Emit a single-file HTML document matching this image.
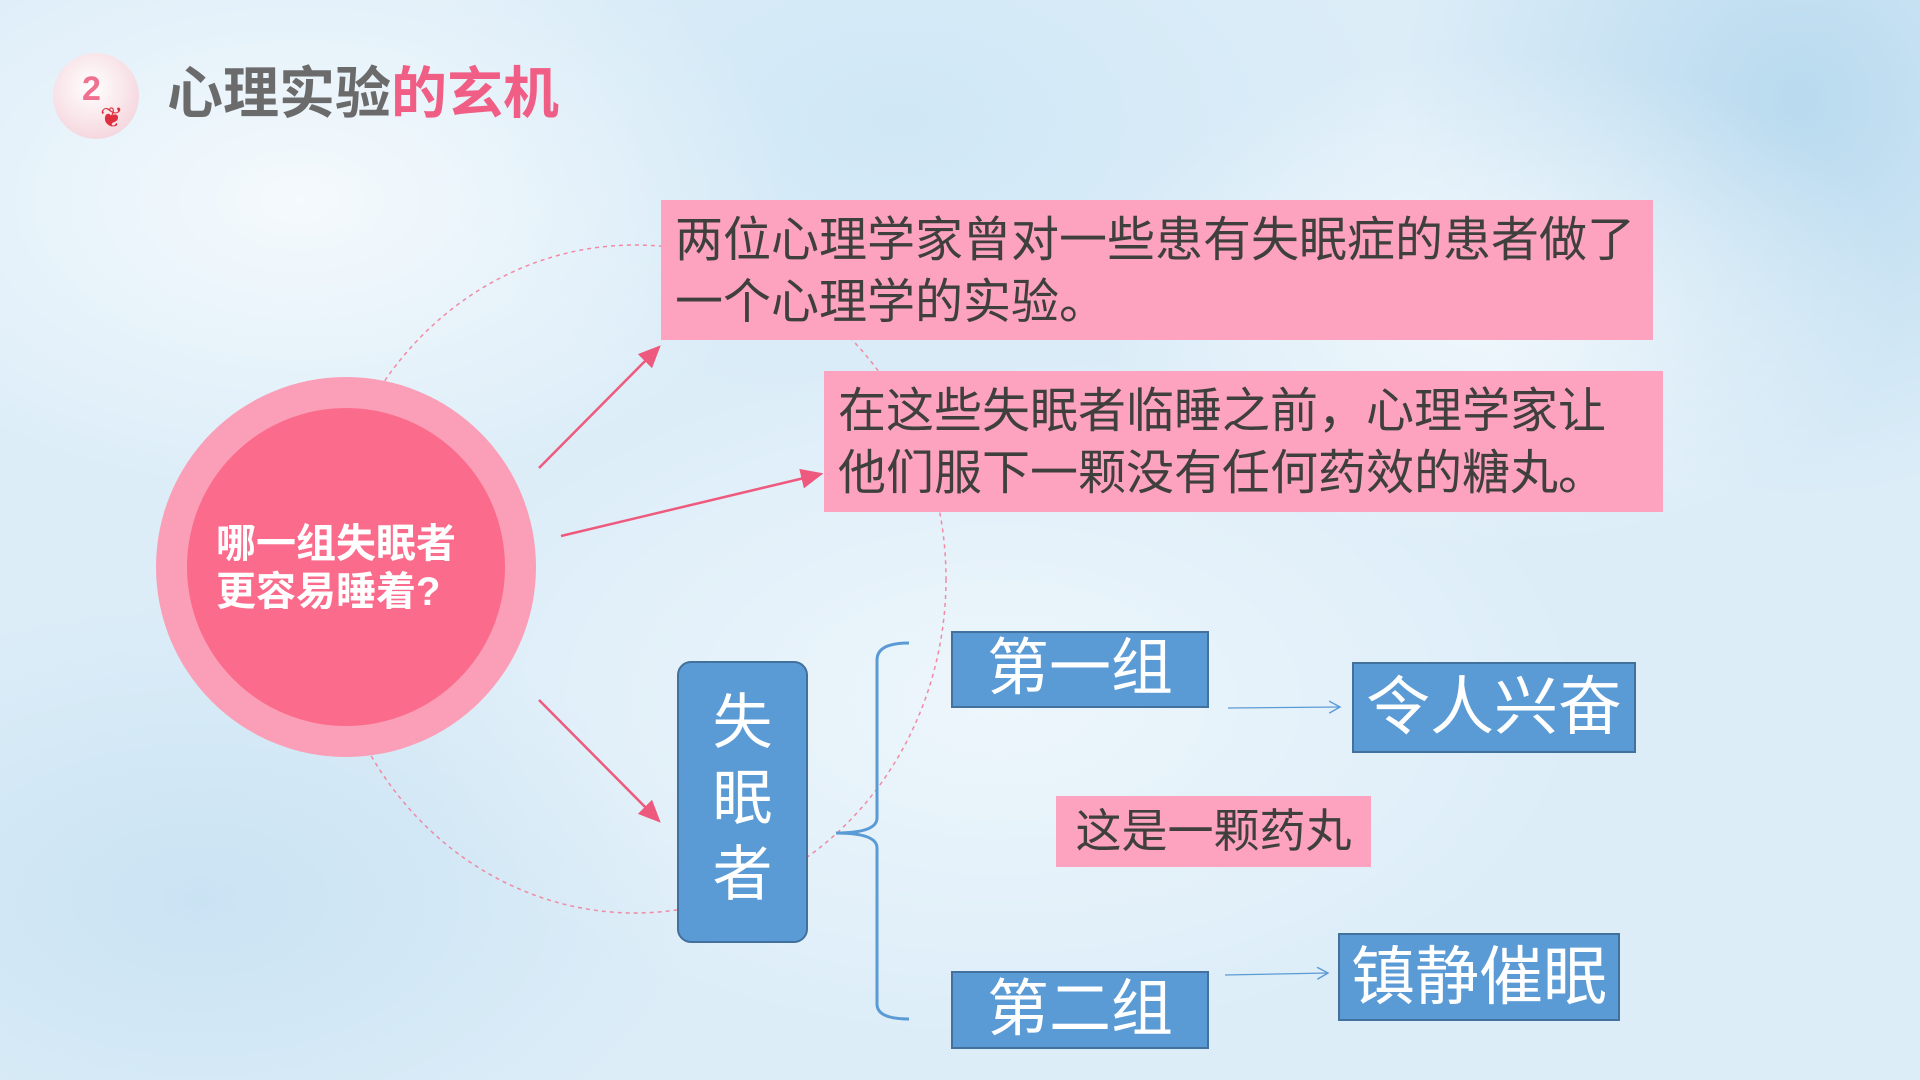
<!DOCTYPE html>
<html><head><meta charset="utf-8"><style>
html,body{margin:0;padding:0;}
body{width:1920px;height:1080px;overflow:hidden;position:relative;font-family:"Liberation Sans","Noto Sans CJK SC",sans-serif;
background:
radial-gradient(ellipse 500px 300px at 300px 200px,rgba(255,255,255,0.7),transparent),
radial-gradient(ellipse 600px 350px at 1000px 700px,rgba(255,255,255,0.5),transparent),
radial-gradient(ellipse 400px 250px at 1500px 300px,rgba(255,255,255,0.6),transparent),
radial-gradient(ellipse 500px 300px at 200px 900px,rgba(190,220,240,0.6),transparent),
radial-gradient(ellipse 400px 400px at 1800px 100px,rgba(170,210,235,0.7),transparent),
radial-gradient(ellipse 500px 300px at 900px 120px,rgba(200,228,245,0.6),transparent),
#dcedf8;}
.a{position:absolute;box-sizing:border-box;}
.pink{background:#fda3bf;color:#3f3f3f;font-size:48px;line-height:62px;padding:10px 14px;white-space:nowrap;}
.blue{background:#5b9bd5;border:2px solid #41719c;color:#fff;text-align:center;}
</style></head><body>
<div class="a" style="left:53px;top:53px;width:86px;height:86px;border-radius:50%;background:radial-gradient(circle at 45% 40%,#fff 0%,#f7dfe5 60%,#f2c9d3 100%);"></div>
<div class="a" style="left:82px;top:70px;font-size:34px;font-weight:bold;color:#f0708f;">2</div>
<div class="a" style="left:100px;top:100px;width:36px;height:36px;color:#e0303f;font-size:28px;line-height:36px;">❦</div>
<div class="a" style="left:167px;top:62px;font-size:56px;font-weight:bold;line-height:64px;color:#6b6b6b;white-space:nowrap;">心理实验<span style="color:#f05d85;">的玄机</span></div>

<svg class="a" style="left:0;top:0" width="1920" height="1080">
<ellipse cx="635" cy="579" rx="311" ry="334" fill="none" stroke="#f08aa4" stroke-width="1.5" stroke-dasharray="4 4"/>
<defs>
<marker id="r" markerWidth="10" markerHeight="10" refX="8" refY="5" orient="auto"><path d="M0,1 L9,5 L0,9 z" fill="#ee5a7e"/></marker>
<marker id="b" markerWidth="12" markerHeight="12" refX="10" refY="6" orient="auto"><path d="M1,1 L10,6 L1,11" fill="none" stroke="#5b9bd5" stroke-width="1.2"/></marker>
</defs>
<line x1="539" y1="468" x2="659" y2="347" stroke="#ee5a7e" stroke-width="2.5" marker-end="url(#r)"/>
<line x1="561" y1="536" x2="821" y2="474" stroke="#ee5a7e" stroke-width="2.5" marker-end="url(#r)"/>
<line x1="539" y1="700" x2="659" y2="821" stroke="#ee5a7e" stroke-width="2.5" marker-end="url(#r)"/>
<line x1="1228" y1="708" x2="1340" y2="707" stroke="#5b9bd5" stroke-width="1.2" marker-end="url(#b)"/>
<line x1="1225" y1="975" x2="1328" y2="973" stroke="#5b9bd5" stroke-width="1.2" marker-end="url(#b)"/>
<path d="M909,643 Q877,643 877,660 L877,818 Q877,833 836,833 Q877,833 877,848 L877,1004 Q877,1019 909,1019" fill="none" stroke="#5b9bd5" stroke-width="3"/>
</svg>

<div class="a" style="left:156px;top:377px;width:380px;height:380px;border-radius:50%;background:#fa9fb7;"></div>
<div class="a" style="left:187px;top:408px;width:318px;height:318px;border-radius:50%;background:#fb6b8b;"></div>
<div class="a" style="left:216px;top:520px;font-size:40px;font-weight:bold;line-height:48px;color:#fff;white-space:nowrap;">哪一组失眠者<br>更容易睡着?</div>

<div class="a pink" style="left:661px;top:200px;width:992px;height:140px;">两位心理学家曾对一些患有失眠症的患者做了<br>一个心理学的实验。</div>
<div class="a pink" style="left:824px;top:371px;width:839px;height:141px;">在这些失眠者临睡之前，心理学家让<br>他们服下一颗没有任何药效的糖丸。</div>

<div class="a blue" style="left:677px;top:661px;width:131px;height:282px;border-radius:14px;font-size:60px;line-height:76px;padding-top:22px;">失<br>眠<br>者</div>
<div class="a blue" style="left:951px;top:631px;width:258px;height:77px;font-size:62px;line-height:72px;">第一组</div>
<div class="a blue" style="left:951px;top:971px;width:258px;height:78px;font-size:62px;line-height:74px;">第二组</div>
<div class="a blue" style="left:1352px;top:662px;width:284px;height:91px;font-size:64px;line-height:86px;">令人兴奋</div>
<div class="a blue" style="left:1338px;top:933px;width:282px;height:88px;font-size:64px;line-height:84px;">镇静催眠</div>
<div class="a" style="left:1056px;top:796px;width:315px;height:71px;background:#fda3bf;color:#3f3f3f;font-size:46px;line-height:71px;text-align:center;">这是一颗药丸</div>
</body></html>
